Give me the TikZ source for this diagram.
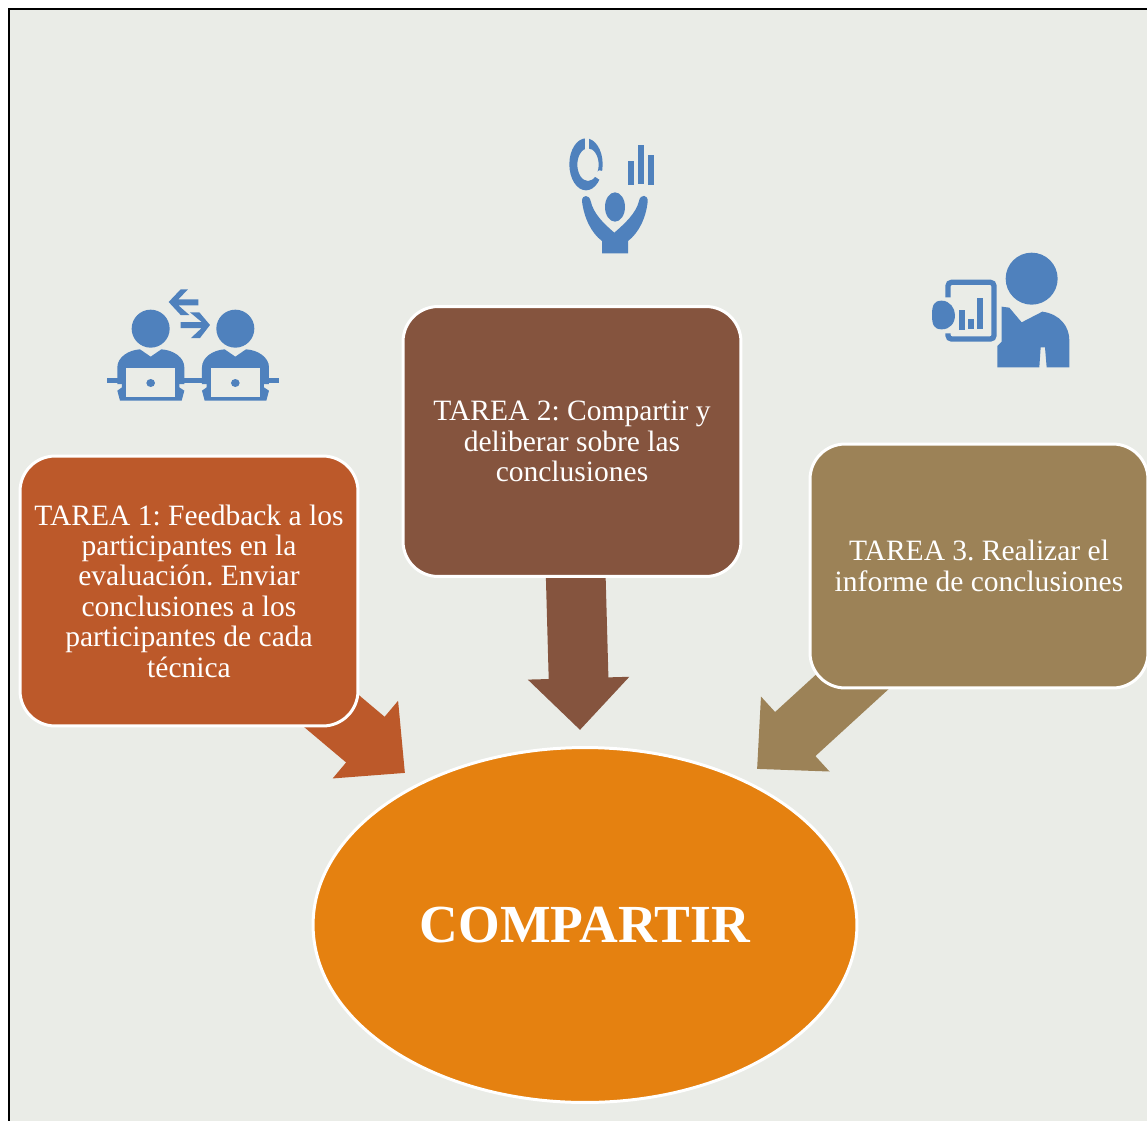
\documentclass[tikz,border=0pt]{standalone}
\usepackage{fontspec}
\setmainfont{Liberation Serif}
\usetikzlibrary{arrows.meta,backgrounds,shapes.geometric}
\definecolor{paper}{HTML}{EAECE7}
\definecolor{icon}{HTML}{4F81BD}
\definecolor{rust}{HTML}{BC592A}
\definecolor{brown}{HTML}{85543E}
\definecolor{khaki}{HTML}{9C8257}
\definecolor{amber}{HTML}{E58110}
\frenchspacing
\tikzset{
  tarea/.style={draw=white, line width=1.7pt, rounded corners=20pt, minimum width=6.76cm, align=center, text=white, font=\fontsize{16.8}{17.3}\selectfont},
  flecha/.style={line width=34pt, -{Triangle[length=29.5pt,width=56pt]}},
  zoomed/.style={x=0.00667cm, y=-0.00667cm},
}
\begin{document}
\begin{tikzpicture}[x=0.02cm, y=-0.02cm]
\useasboundingbox (0, 0) rectangle (1147, 1120);
\clip (0, 0) rectangle (1147, 1120);
\node [tarea, fill=rust, minimum height=5.4cm] (tarea1) at (189, 591) {TAREA 1: Feedback a los\\participantes en la\\evaluación. Enviar\\conclusiones a los\\participantes de cada\\técnica};
\node [tarea, fill=brown, minimum height=5.4cm] (tarea2) at (572, 441.5) {TAREA 2: Compartir y\\deliberar sobre las\\conclusiones};
\node [tarea, fill=khaki, minimum height=4.88cm] (tarea3) at (979, 566) {TAREA 3. Realizar el\\informe de conclusiones};
\node [ellipse, draw=white, line width=1.7pt, fill=amber, minimum width=10.88cm, minimum height=7.1cm, text=white, font=\fontsize{30.5}{32}\selectfont\bfseries] (compartir) at (585, 925) {COMPARTIR};
\coordinate (punta1) at (405, 773);
\coordinate (punta2) at (580, 730);
\coordinate (punta3) at (757, 769);
\begin{pgfonlayer}{background}
\fill [paper] (9, 9) rectangle (1160, 1130);
\draw [black, line width=1.2pt] (9, 9) rectangle (1160, 1130);
\draw [flecha, rust] (tarea1.center) -- (punta1);
\draw [flecha, brown] (tarea2.center) -- (punta2);
\draw [flecha, khaki] (tarea3.center) -- (punta3);
\end{pgfonlayer}
\begin{scope}[shift={(90, 270)}, zoomed]
\fill [icon] (236, 96) -- (272, 58) -- (294, 58) -- (265, 88) -- (325, 88) -- (325, 106) -- (265, 106) -- (298, 135) -- (272, 135) -- cycle;
\fill [icon] (360, 165) -- (328, 127) -- (300, 127) -- (335, 156) -- (272, 156) -- (272, 174) -- (335, 174) -- (303, 204) -- (330, 204) -- cycle;
\fill [icon] (52, 324) rectangle (566, 340);
\foreach \dx in {0, 254} {
\begin{scope}[shift={(\dx, 0)}]
\fill [icon] (182, 176) circle (57);
\fill [icon] (82, 342) -- (82, 292) .. controls (82, 262) and (115, 240) .. (150, 238) -- (182, 260) -- (214, 238) .. controls (250, 240) and (283, 262) .. (283, 292) -- (283, 342) -- cycle;
\fill [icon] (96, 340) -- (96, 352) -- (82, 362) -- (90, 392) -- (275, 392) -- (283, 362) -- (268, 352) -- (268, 340) -- cycle;
\fill [paper] (108, 293) rectangle (256, 382);
\fill [icon] (182, 339) ellipse (13 and 12);
\end{scope}
}
\end{scope}
\begin{scope}[shift={(550, 125)}, zoomed]
\fill [icon, even odd rule] (108, 118) ellipse (50 and 78) (114, 119) ellipse (32 and 49);
\fill [paper] (104, 35) rectangle (118, 80);
\fill [paper] (128, 150) -- (148, 136) -- (165, 140) -- (165, 170) -- (150, 165) -- cycle;
\fill [icon] (234, 108) rectangle (252, 180);
\fill [icon] (264, 60) rectangle (282, 177);
\fill [icon] (294, 90) rectangle (312, 180);
\fill [icon] (195, 246) ellipse (30 and 44);
\fill [icon] (96, 228) .. controls (96, 208) and (118, 208) .. (122, 228) .. controls (130, 265) and (160, 295) .. (193, 323) .. controls (225, 295) and (258, 265) .. (267, 228) .. controls (271, 206) and (295, 208) .. (293, 230) .. controls (288, 280) and (265, 325) .. (234, 348) -- (234, 385) -- (156, 385) -- (156, 348) .. controls (125, 325) and (102, 280) .. (96, 228) -- cycle;
\end{scope}
\begin{scope}[shift={(920, 240)}, zoomed]
\fill [icon] (335, 116) circle (78);
\fill [icon] (245, 200) -- (268, 203) -- (305, 247) -- (367, 215) .. controls (420, 222) and (448, 260) .. (448, 300) -- (448, 382) -- (380, 382) -- (375, 322) -- (362, 322) -- (358, 382) -- (232, 382) -- (232, 318) -- (245, 305) -- cycle;
\draw [icon, line width=3pt, rounded corners=2pt] (84, 172) -- (84, 127) -- (222, 127) -- (222, 297) -- (84, 297) -- (84, 280);
\fill [icon] (36, 225) .. controls (36, 195) and (42, 182) .. (65, 182) .. controls (90, 182) and (105, 205) .. (105, 225) .. controls (105, 250) and (90, 268) .. (65, 268) .. controls (42, 268) and (36, 255) .. (36, 225) -- cycle;
\fill [icon] (117, 210) rectangle (135, 270);
\fill [icon] (144, 237) rectangle (162, 267);
\fill [icon] (171, 174) rectangle (189, 267);
\end{scope}
\end{tikzpicture}
\end{document}
